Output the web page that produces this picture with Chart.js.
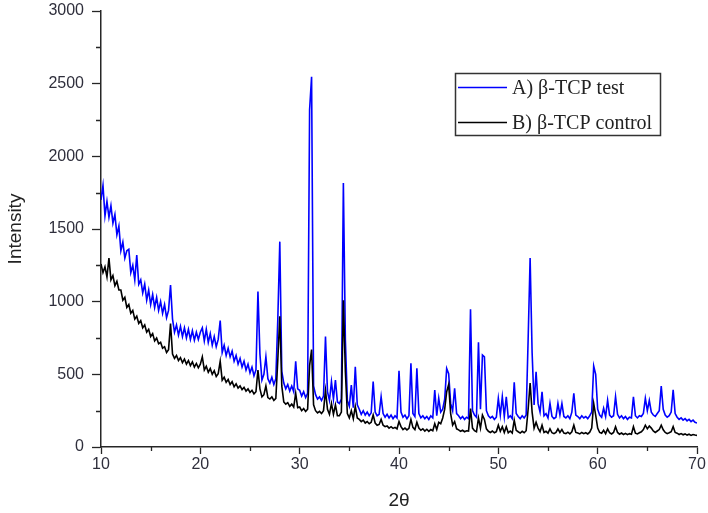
<!DOCTYPE html>
<html>
<head>
<meta charset="utf-8">
<script src="https://cdn.jsdelivr.net/npm/chart.js@4.4.1/dist/chart.umd.min.js"></script>
<style>
  html, body { margin: 0; padding: 0; background: #fff; }
  #wrap { width: 708px; height: 513px; }
</style>
</head>
<body>
<div id="wrap"><canvas id="xrd" width="708" height="513"></canvas></div>
<script>
// 2θ (grados) — paso 0.2
const angles = [
  10, 10.2, 10.4, 10.6, 10.8, 11, 11.2, 11.4, 11.6, 11.8,
  12, 12.2, 12.4, 12.6, 12.8, 13, 13.2, 13.4, 13.6, 13.8,
  14, 14.2, 14.4, 14.6, 14.8, 15, 15.2, 15.4, 15.6, 15.8,
  16, 16.2, 16.4, 16.6, 16.8, 17, 17.2, 17.4, 17.6, 17.8,
  18, 18.2, 18.4, 18.6, 18.8, 19, 19.2, 19.4, 19.6, 19.8,
  20, 20.2, 20.4, 20.6, 20.8, 21, 21.2, 21.4, 21.6, 21.8,
  22, 22.2, 22.4, 22.6, 22.8, 23, 23.2, 23.4, 23.6, 23.8,
  24, 24.2, 24.4, 24.6, 24.8, 25, 25.2, 25.4, 25.6, 25.8,
  26, 26.2, 26.4, 26.6, 26.8, 27, 27.2, 27.4, 27.6, 27.8,
  28, 28.2, 28.4, 28.6, 28.8, 29, 29.2, 29.4, 29.6, 29.8,
  30, 30.2, 30.4, 30.6, 30.8, 31, 31.2, 31.4, 31.6, 31.8,
  32, 32.2, 32.4, 32.6, 32.8, 33, 33.2, 33.4, 33.6, 33.8,
  34, 34.2, 34.4, 34.6, 34.8, 35, 35.2, 35.4, 35.6, 35.8,
  36, 36.2, 36.4, 36.6, 36.8, 37, 37.2, 37.4, 37.6, 37.8,
  38, 38.2, 38.4, 38.6, 38.8, 39, 39.2, 39.4, 39.6, 39.8,
  40, 40.2, 40.4, 40.6, 40.8, 41, 41.2, 41.4, 41.6, 41.8,
  42, 42.2, 42.4, 42.6, 42.8, 43, 43.2, 43.4, 43.6, 43.8,
  44, 44.2, 44.4, 44.6, 44.8, 45, 45.2, 45.4, 45.6, 45.8,
  46, 46.2, 46.4, 46.6, 46.8, 47, 47.2, 47.4, 47.6, 47.8,
  48, 48.2, 48.4, 48.6, 48.8, 49, 49.2, 49.4, 49.6, 49.8,
  50, 50.2, 50.4, 50.6, 50.8, 51, 51.2, 51.4, 51.6, 51.8,
  52, 52.2, 52.4, 52.6, 52.8, 53, 53.2, 53.4, 53.6, 53.8,
  54, 54.2, 54.4, 54.6, 54.8, 55, 55.2, 55.4, 55.6, 55.8,
  56, 56.2, 56.4, 56.6, 56.8, 57, 57.2, 57.4, 57.6, 57.8,
  58, 58.2, 58.4, 58.6, 58.8, 59, 59.2, 59.4, 59.6, 59.8,
  60, 60.2, 60.4, 60.6, 60.8, 61, 61.2, 61.4, 61.6, 61.8,
  62, 62.2, 62.4, 62.6, 62.8, 63, 63.2, 63.4, 63.6, 63.8,
  64, 64.2, 64.4, 64.6, 64.8, 65, 65.2, 65.4, 65.6, 65.8,
  66, 66.2, 66.4, 66.6, 66.8, 67, 67.2, 67.4, 67.6, 67.8,
  68, 68.2, 68.4, 68.6, 68.8, 69, 69.2, 69.4, 69.6, 69.8,
  70
];

// A) β-TCP test
const testIntensity = [
  1700, 1800, 1590, 1690, 1580, 1660, 1540, 1600, 1460, 1520,
  1350, 1410, 1300, 1350, 1360, 1200, 1250, 1150, 1320, 1120,
  1150, 1060, 1120, 1010, 1080, 980, 1050, 960, 1030, 940,
  1000, 920, 980, 890, 940, 1115, 880, 790, 840, 770,
  830, 760, 820, 750, 810, 740, 800, 735, 790, 740,
  790, 820, 730, 810, 720, 780, 700, 760, 690, 740,
  870, 650, 700, 630, 680, 620, 660, 590, 630, 570,
  610, 550, 590, 530, 570, 510, 550, 490, 530, 1069,
  640, 460, 500, 620, 470, 440, 480, 430, 470, 880,
  1413, 520, 440, 400, 430, 385, 420, 380, 590, 400,
  390, 350, 380, 340, 370, 2320, 2548, 420, 360, 330,
  345, 320, 350, 760, 380, 320, 450, 330, 460, 310,
  300, 330, 1816, 740, 320, 280, 426, 270, 552, 290,
  260, 225, 250, 220, 240, 215, 235, 450, 240, 215,
  225, 346, 230, 205, 225, 200, 220, 195, 215, 200,
  525, 240, 205, 220, 195, 215, 576, 230, 210, 541,
  230, 200, 215, 195, 210, 190, 215, 200, 392, 215,
  335, 240, 260, 330, 541, 505, 300, 250, 404, 230,
  215, 195, 210, 190, 205, 195, 947, 250, 220, 205,
  720, 260, 633, 620, 250, 215, 200, 210, 190, 205,
  335, 220, 346, 210, 346, 200, 215, 195, 445, 230,
  210, 195, 215, 200, 220, 740, 1300, 650, 290, 518,
  300, 240, 380, 215, 230, 200, 300, 210, 195, 205,
  300, 220, 300, 210, 200, 215, 195, 240, 369, 220,
  210, 195, 215, 200, 210, 195, 215, 240, 557, 500,
  260, 220, 205, 266, 210, 321, 220, 205, 215, 346,
  225, 200, 215, 195, 210, 190, 205, 200, 346, 215,
  200, 215, 210, 230, 335, 250, 320, 240, 220, 210,
  230, 250, 419, 260, 220, 205, 215, 240, 394, 230,
  205, 190, 200, 185, 195, 180, 190, 175, 185, 170,
  165
];

// B) β-TCP control
const controlIntensity = [
  1260, 1200, 1240, 1170, 1300, 1150, 1180, 1110, 1140, 1080,
  1080, 1010, 1030, 960, 980, 920, 940, 880, 900, 850,
  870, 820, 840, 790, 810, 760, 780, 730, 750, 710,
  720, 680, 690, 650, 670, 850, 640, 610, 630, 595,
  615, 580, 605, 570, 595, 560, 585, 550, 575, 545,
  570, 620, 530, 555, 515, 540, 500, 525, 485, 505,
  590, 460, 480, 445, 465, 430, 450, 415, 435, 405,
  420, 395, 410, 385, 400, 375, 390, 365, 380, 530,
  400, 345, 360, 420, 340, 330, 345, 320, 335, 600,
  900, 420, 310, 295, 305, 280, 295, 275, 370, 270,
  275, 250, 265, 245, 260, 560, 670, 290, 250, 235,
  245, 230, 250, 390, 260, 225, 300, 225, 290, 215,
  215, 240, 1010, 520, 230, 200, 250, 195, 280, 200,
  190, 175, 185, 165, 175, 160, 170, 220, 165, 150,
  155, 190, 150, 140, 145, 130, 140, 128, 135, 125,
  175, 140, 120, 130, 118, 128, 190, 135, 120, 170,
  130, 115, 125, 110, 122, 108, 120, 112, 160, 120,
  170, 160, 200, 260, 380, 430, 230, 150, 175, 125,
  118, 108, 115, 105, 112, 110, 265, 130, 112, 105,
  200, 130, 220, 190, 125, 108, 100, 110, 98, 106,
  150, 108, 140, 100, 140, 98, 110, 96, 185, 115,
  105, 96, 108, 98, 112, 260, 440, 240, 130, 170,
  130, 105, 150, 100, 108, 95, 125, 98, 92, 100,
  125, 100, 120, 96, 92, 102, 90, 105, 150, 100,
  96, 90, 100, 92, 98, 90, 102, 130, 300, 220,
  130, 100, 95, 115, 92, 125, 98, 90, 100, 140,
  100, 88, 96, 86, 94, 85, 92, 88, 140, 95,
  90, 98, 105, 120, 150, 125, 145, 130, 110, 100,
  110, 120, 150, 118, 100, 92, 98, 105, 140, 100,
  95, 86, 92, 84, 90, 82, 88, 80, 86, 82,
  80
];

const seriesLabels = ['A) β-TCP test', 'B) β-TCP control'];

// Marcas de ejes
const xMajorTicks = [10, 20, 30, 40, 50, 60, 70];
const xMinorTicks = [15, 25, 35, 45, 55, 65];
const yMajorTicks = [0, 500, 1000, 1500, 2000, 2500, 3000];
const yMinorTicks = [250, 750, 1250, 1750, 2250, 2750];

const AXIS_COLOR = '#262626';
const LABEL_COLOR = '#2f2f3c';
const SANS = '"Liberation Sans", Arial, sans-serif';

// Marcas menores (más cortas que las principales)
const minorTicksPlugin = {
    id: 'minorTicks',
    afterDraw(chart) {
        const { ctx, scales: { x, y } } = chart;
        ctx.save();
        ctx.strokeStyle = AXIS_COLOR;
        ctx.lineWidth = 1.3;
        ctx.beginPath();
        xMinorTicks.forEach(v => {
            const px = Math.round(x.getPixelForValue(v)) + 0.5;
            ctx.moveTo(px, y.bottom);
            ctx.lineTo(px, y.bottom + 4);
        });
        yMinorTicks.forEach(v => {
            const py = Math.round(y.getPixelForValue(v)) + 0.5;
            ctx.moveTo(x.left, py);
            ctx.lineTo(x.left - 5, py);
        });
        ctx.stroke();
        ctx.restore();
    }
};

// Leyenda con marco, dentro del área del gráfico
const boxedLegendPlugin = {
    id: 'boxedLegend',
    afterDraw(chart) {
        const { ctx } = chart;
        const left = 455.5, top = 73.5, width = 205, height = 62;
        ctx.save();
        ctx.fillStyle = '#fff';
        ctx.fillRect(left, top, width, height);
        ctx.strokeStyle = '#333';
        ctx.lineWidth = 1.5;
        ctx.strokeRect(left, top, width, height);
        ctx.font = '20px "Liberation Serif", "DejaVu Serif", serif';
        ctx.textBaseline = 'middle';
        ctx.textAlign = 'left';
        const rows = [87, 122];
        chart.data.datasets.forEach((ds, i) => {
            const yy = rows[i] + 0.5;
            ctx.strokeStyle = ds.borderColor;
            ctx.lineWidth = 1.3;
            ctx.beginPath();
            ctx.moveTo(458, yy);
            ctx.lineTo(507, yy);
            ctx.stroke();
            ctx.fillStyle = '#222';
            ctx.fillText(ds.label, 512, yy + 1);
        });
        ctx.restore();
    }
};

function _toPoints(values) {
    return angles.map((a, i) => ({ x: a, y: values[i] }));
}

new Chart(document.getElementById('xrd'), {
    type: 'line',
    data: {
        datasets: [
            {
                label: seriesLabels[0],
                data: _toPoints(testIntensity),
                borderColor: '#0000ff',
                borderWidth: 1.6,
                pointRadius: 0,
                tension: 0,
                order: 1
            },
            {
                label: seriesLabels[1],
                data: _toPoints(controlIntensity),
                borderColor: '#000000',
                borderWidth: 1.6,
                pointRadius: 0,
                tension: 0,
                order: 0
            }
        ]
    },
    options: {
        responsive: false,
        animation: false,
        layout: { padding: { top: 11, right: 11, left: 0, bottom: 0 } },
        plugins: {
            legend: { display: false },
            tooltip: { enabled: false }
        },
        scales: {
            x: {
                type: 'linear',
                min: 10,
                max: 70,
                afterBuildTicks: s => { s.ticks = xMajorTicks.map(v => ({ value: v })); },
                afterFit: s => { s.height = 66; },
                grid: { drawOnChartArea: false, tickLength: 7, tickColor: AXIS_COLOR, tickWidth: 1.3 },
                border: { display: true, color: AXIS_COLOR, width: 1.5 },
                ticks: {
                    color: LABEL_COLOR,
                    padding: 1,
                    maxRotation: 0,
                    callback: v => String(v),
                    font: { family: SANS, size: 16 }
                },
                title: {
                    display: true,
                    text: '2θ',
                    color: '#222',
                    padding: { top: 0, bottom: 1 },
                    font: { family: SANS, size: 19 }
                }
            },
            y: {
                min: 0,
                max: 3000,
                afterBuildTicks: s => { s.ticks = yMajorTicks.map(v => ({ value: v })); },
                afterFit: s => { s.width = 101; s.paddingTop = 0; s.paddingBottom = 0; },
                grid: { drawOnChartArea: false, tickLength: 9, tickColor: AXIS_COLOR, tickWidth: 1.3 },
                border: { display: true, color: AXIS_COLOR, width: 1.5 },
                ticks: {
                    color: LABEL_COLOR,
                    padding: 8,
                    callback: v => String(v),
                    font: { family: SANS, size: 16 }
                },
                title: {
                    display: true,
                    text: 'Intensity',
                    color: '#222',
                    padding: { top: 4, bottom: 0 },
                    font: { family: SANS, size: 19 }
                }
            }
        }
    },
    plugins: [minorTicksPlugin, boxedLegendPlugin]
});
</script>
</body>
</html>
